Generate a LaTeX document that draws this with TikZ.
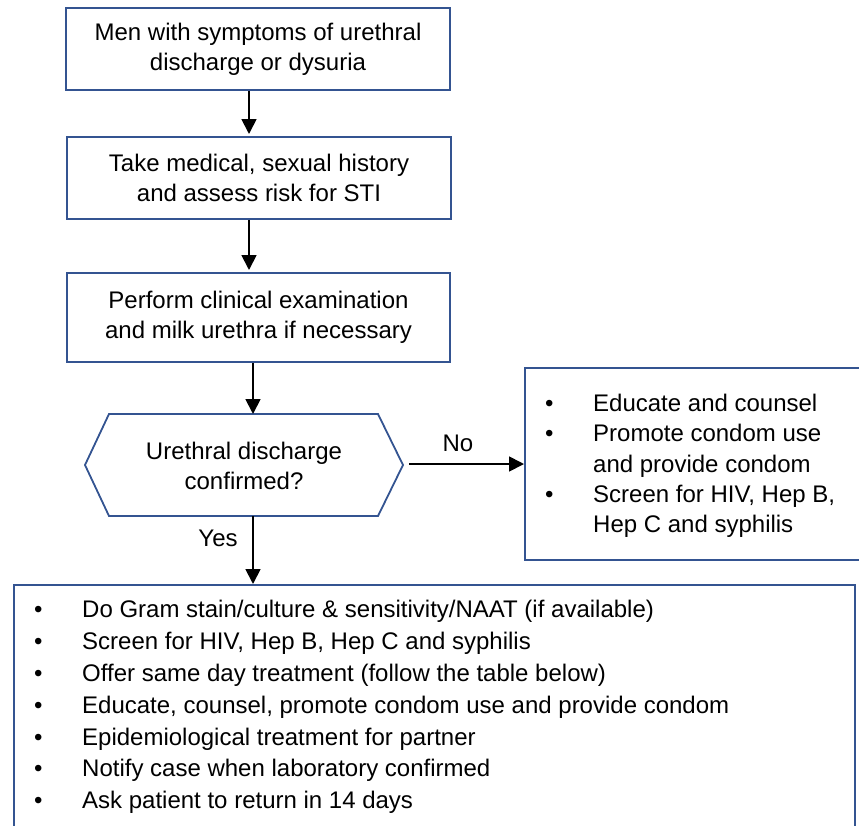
\documentclass[tikz,border=0pt]{standalone}
\usepackage{fontspec}
\setmainfont{Liberation Sans}
\usetikzlibrary{arrows.meta}
\definecolor{boxblue}{RGB}{52,84,145}
\tikzset{
  flowbox/.style={draw=boxblue, line width=1.8pt, fill=white, inner sep=0pt, align=center,
    font=\fontsize{24}{30}\selectfont},
  arr/.style={line width=1.8pt, -{Triangle[length=15pt,width=15pt]}},
  lbl/.style={font=\fontsize{24}{28}\selectfont, inner sep=0pt},
  listtext/.style={inner sep=0pt, anchor=west, align=left}
}
\begin{document}
\begin{tikzpicture}[x=1pt,y=-1pt]
\useasboundingbox (0,0) rectangle (859,825);
\clip (0,0) rectangle (859,825);

\node[flowbox, minimum width=384pt, minimum height=82pt] (b1) at (258,49)
  {Men with symptoms of urethral\\discharge or dysuria};
\node[flowbox, minimum width=384pt, minimum height=82pt] (b2) at (259,178)
  {Take medical, sexual history\\and assess risk for STI};
\node[flowbox, minimum width=383pt, minimum height=89pt] (b3) at (258.5,317.5)
  {Perform clinical examination\\and milk urethra if necessary};

% hexagon decision
\coordinate (hl) at (85,465);
\coordinate (htl) at (109,414);
\coordinate (htr) at (378,414);
\coordinate (hr) at (403,465);
\coordinate (hbr) at (378,516);
\coordinate (hbl) at (109,516);
\draw[draw=boxblue, line width=1.8pt, line join=miter] (hl) -- (htl) -- (htr) -- (hr) -- (hbr) -- (hbl) -- cycle;
\node[lbl, align=center, font=\fontsize{24}{30}\selectfont] (hex) at (244,466)
  {Urethral discharge\\confirmed?};
\coordinate (hexin) at (253,414);
\coordinate (hexout) at (253,516);
\coordinate (hexright) at (409,464);

% right box
\node[draw=boxblue, line width=1.8pt, minimum width=360pt, minimum height=192pt, anchor=north west, inner sep=0pt] (nobox) at (524,367) {};
\node[listtext, font=\fontsize{24}{30.3}\selectfont] (notext) at (545,466)
  {\begin{tabular}{@{}p{48pt}@{}l@{}}
   \textbullet & Educate and counsel\\
   \textbullet & Promote condom use\\
               & and provide condom\\
   \textbullet & Screen for HIV, Hep B,\\
               & Hep C and syphilis
   \end{tabular}};

% bottom box
\node[draw=boxblue, line width=1.8pt, minimum width=841pt, minimum height=270pt, anchor=north west, inner sep=0pt] (yesbox) at (13,584) {};
\node[listtext, font=\fontsize{24}{31.8}\selectfont] (yestext) at (34,707)
  {\begin{tabular}{@{}p{48pt}@{}l@{}}
   \textbullet & Do Gram stain/culture \& sensitivity/NAAT (if available)\\
   \textbullet & Screen for HIV, Hep B, Hep C and syphilis\\
   \textbullet & Offer same day treatment (follow the table below)\\
   \textbullet & Educate, counsel, promote condom use and provide condom\\
   \textbullet & Epidemiological treatment for partner\\
   \textbullet & Notify case when laboratory confirmed\\
   \textbullet & Ask patient to return in 14 days
   \end{tabular}};

% connectors
\draw[arr] (b1.south -| 249,0) -- (249,134);
\draw[arr] (b2.south -| 249,0) -- (249,270);
\draw[arr] (b3.south -| 253,0) -- (hexin);
\draw[arr] (hexout) -- (yesbox.north -| hexout);
\draw[arr] (hexright) -- (nobox.west |- hexright);

\node[lbl] (yes) at (218,538) {Yes};
\node[lbl] (no) at (458,443) {No};
\end{tikzpicture}
\end{document}
